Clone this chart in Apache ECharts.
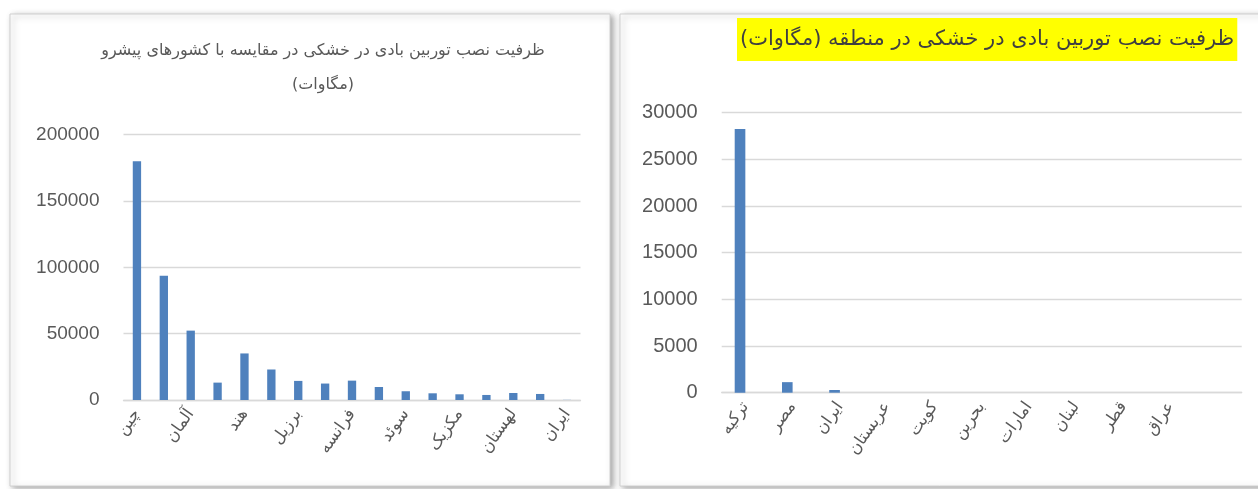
<!DOCTYPE html>
<html>
<head>
<meta charset="utf-8">
<script src="https://cdn.jsdelivr.net/npm/echarts@6/dist/echarts.min.js"></script>
<style>
html,body{margin:0;padding:0;background:#fff;}
#c{width:1258px;height:489px;}
</style>
</head>
<body>
<div id="c"></div>
<script>
// Left chart: leading countries (MW)
const leftCategories = ['چین','','آلمان','','هند','','برزیل','','فرانسه','','سوئد','','مکزیک','','لهستان','','ایران'];
const leftValues = [180000, 93700, 52300, 13100, 35100, 23000, 14400, 12400, 14600, 9800, 6600, 5050, 4300, 3800, 5300, 4550, 100];
const leftTicks = [0, 50000, 100000, 150000, 200000];

// Right chart: region (MW)
const rightCategories = ['ترکیه','مصر','ایران','عربستان','کویت','بحرین','امارات','لبنان','قطر','عراق',''];
const rightValues = [28250, 1130, 290, 0, 0, 0, 0, 0, 0, 0, null];
const rightTicks = [0, 5000, 10000, 15000, 20000, 25000, 30000];

const leftTitle = 'ظرفیت نصب توربین بادی در خشکی در مقایسه با کشورهای پیشرو\n(مگاوات)';
const rightTitle = 'ظرفیت نصب توربین بادی در خشکی در منطقه (مگاوات)';

const FONT = '"Liberation Sans", "DejaVu Sans", sans-serif';
const AR = '"DejaVu Sans", sans-serif';
const TXT = '#595959';
const BAR = '#4f81bd';
const GRID = '#d9d9d9';

const chart = echarts.init(document.getElementById('c'), null, {renderer: 'canvas'});

function yAxis(idx, ticks, fs){
  return {
    type: 'value', gridIndex: idx,
    min: ticks[0], max: ticks[ticks.length-1], interval: ticks[1]-ticks[0],
    axisLine: {show: false}, axisTick: {show: false},
    splitLine: {lineStyle: {color: GRID, width: 1.3}},
    axisLabel: {color: TXT, fontSize: fs, fontFamily: FONT, margin: 24, formatter: v => String(v)}
  };
}
function xAxis(idx, cats){
  return {
    type: 'category', gridIndex: idx, data: cats,
    axisLine: {lineStyle: {color: GRID, width: 1.3}},
    axisTick: {show: false},
    axisLabel: {color: TXT, fontSize: 16.5, fontFamily: AR, rotate: 55, interval: 0, margin: 11}
  };
}

chart.setOption({
  animation: false,
  backgroundColor: '#fff',
  graphic: [
    {type: 'rect', shape: {x: 10, y: 14, width: 600, height: 472},
     style: {fill: '#fff', stroke: '#d0d0d0', lineWidth: 1, shadowBlur: 6, shadowOffsetX: 3, shadowOffsetY: 2, shadowColor: 'rgba(0,0,0,0.35)'}, z: -10},
    {type: 'rect', shape: {x: 620, y: 14, width: 650, height: 472},
     style: {fill: '#fff', stroke: '#d0d0d0', lineWidth: 1, shadowBlur: 6, shadowOffsetX: 3, shadowOffsetY: 2, shadowColor: 'rgba(0,0,0,0.35)'}, z: -10}
  ],
  title: [
    {text: leftTitle, left: 318, top: 29, textAlign: 'center',
     textStyle: {color: TXT, fontSize: 16, fontWeight: 'normal', fontFamily: AR, lineHeight: 34, align: 'center'}},
    {text: rightTitle, left: 737, top: 18, backgroundColor: '#ffff00', padding: [11, 3, 11, 3],
     textStyle: {color: '#404040', fontSize: 21, fontWeight: 'normal', fontFamily: AR}}
  ],
  grid: [
    {left: 123.5, right: 1258 - 580.5, top: 134.7, bottom: 489 - 400, containLabel: false},
    {left: 721.7, right: 1258 - 1241.7, top: 112.7, bottom: 489 - 392.7, containLabel: false}
  ],
  xAxis: [xAxis(0, leftCategories), xAxis(1, rightCategories)],
  yAxis: [yAxis(0, leftTicks, 19), yAxis(1, rightTicks, 20)],
  series: [
    {type: 'bar', xAxisIndex: 0, yAxisIndex: 0, data: leftValues, barCategoryGap: '69%',
     itemStyle: {color: BAR}},
    {type: 'bar', xAxisIndex: 1, yAxisIndex: 1, data: rightValues, barGap: '0%', barCategoryGap: '55%',
     itemStyle: {color: BAR}},
    {type: 'bar', xAxisIndex: 1, yAxisIndex: 1, data: [], barGap: '0%', barCategoryGap: '55%',
     itemStyle: {color: BAR}}
  ]
});
</script>
</body>
</html>
